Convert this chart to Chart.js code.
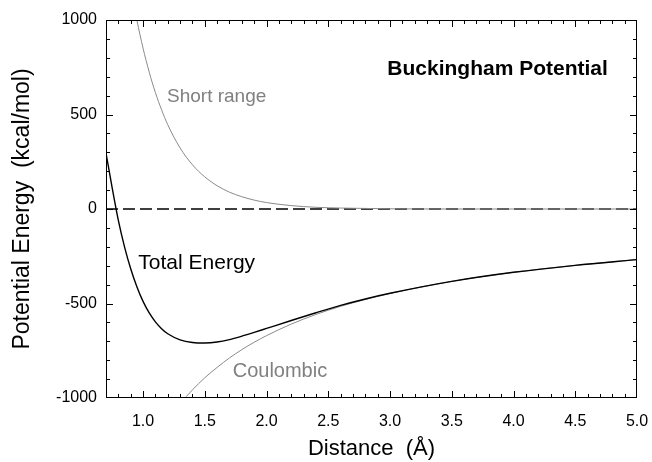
<!DOCTYPE html>
<html>
<head>
<meta charset="utf-8">
<script src="https://cdn.jsdelivr.net/npm/chart.js@4.4.0/dist/chart.umd.min.js"></script>
<style>
  html, body { margin: 0; padding: 0; background: #fff; }
</style>
</head>
<body>
<canvas id="chart" width="652" height="462"></canvas>
<script>
// values (kcal/mol vs distance in Å)
const distance = [0.70, 0.75, 0.80, 0.85, 0.90, 0.95, 1.00, 1.05, 1.10, 1.15, 1.20, 1.30, 1.40, 1.50,
  1.60, 1.70, 1.80, 1.90, 2.00, 2.20, 2.40, 2.60, 2.80, 3.00, 3.50, 4.00, 4.50, 5.00];
const totalEnergy = [296, 112, -60, -200, -316, -411, -489, -550, -597, -633, -660, -692, -706, -709,
  -704, -691, -673, -653, -632, -590, -549, -510, -476, -446, -383, -335, -298, -268];
const shortRange = [2210, 1906, 1622, 1380, 1175, 1000, 851, 724, 616, 525, 446, 323, 234, 170,
  123, 89, 65, 47, 34, 18, 9, 5, 3, 1, 0, 0, 0, 0];
const coulombic = [-1914, -1787, -1675, -1576, -1489, -1411, -1340, -1276, -1218, -1165, -1117, -1031, -957, -893,
  -838, -788, -744, -705, -670, -609, -558, -515, -479, -447, -383, -335, -298, -268];
const zeroX = [0.7, 5.0];
const zeroY = [0, 0];

const xTicks = [1.0, 1.5, 2.0, 2.5, 3.0, 3.5, 4.0, 4.5, 5.0];
const yTicks = [-1000, -500, 0, 500, 1000];

const FONT = '"Liberation Sans", Arial, Helvetica, sans-serif';

const pts = (xs, ys) => xs.map((x, i) => ({ x, y: ys[i] }));

const labels = [
  { text: 'Short range', x: 1.194, y: 565, color: '#808080', font: '19px ' + FONT },
  { text: 'Total Energy', x: 0.962, y: -317, color: '#000', font: '21px ' + FONT },
  { text: 'Coulombic', x: 1.726, y: -889, color: '#808080', font: '20px ' + FONT },
  { text: 'Buckingham Potential', x: 2.978, y: 709, color: '#000', font: 'bold 21px ' + FONT },
];

const frameTicks = {
  id: 'frameTicks',
  afterDatasetsDraw(chart) {
    const { ctx, chartArea: a, scales: { x, y } } = chart;
    ctx.save();
    ctx.strokeStyle = '#000';
    ctx.lineWidth = 1;
    ctx.beginPath();
    for (let i = 8; i <= 49; i++) {
      const px = Math.round(x.getPixelForValue(i / 10)) + 0.5;
      const len = i % 5 === 0 ? 7 : 4;
      ctx.moveTo(px, a.bottom); ctx.lineTo(px, a.bottom - len);
      ctx.moveTo(px, a.top); ctx.lineTo(px, a.top + len);
    }
    for (let v = -900; v <= 900; v += 100) {
      const py = Math.round(y.getPixelForValue(v)) + 0.5;
      const len = v % 500 === 0 ? 7 : 4;
      ctx.moveTo(a.left, py); ctx.lineTo(a.left + len, py);
      ctx.moveTo(a.right, py); ctx.lineTo(a.right - len, py);
    }
    ctx.stroke();
    ctx.strokeRect(a.left + 0.5, a.top + 0.5, a.right - a.left - 1, a.bottom - a.top - 1);

    labels.forEach((l) => {
      ctx.font = l.font;
      ctx.fillStyle = l.color;
      ctx.textBaseline = 'alphabetic';
      ctx.fillText(l.text, x.getPixelForValue(l.x), y.getPixelForValue(l.y));
    });
    ctx.restore();
  },
};

new Chart(document.getElementById('chart'), {
  type: 'line',
  data: {
    datasets: [
      { data: pts(distance, totalEnergy), borderColor: '#000', borderWidth: 1.4 },
      { data: pts(distance, shortRange), borderColor: '#8a8a8a', borderWidth: 1 },
      { data: pts(distance, coulombic), borderColor: '#8a8a8a', borderWidth: 1 },
      { data: pts(zeroX, zeroY), borderColor: '#000', borderWidth: 1.6, borderDash: [12, 5] },
    ],
  },
  options: {
    responsive: false,
    animation: false,
    layout: { padding: { top: 20, right: 15, left: 0, bottom: 0 } },
    elements: {
      point: { radius: 0 },
      line: { cubicInterpolationMode: 'monotone', fill: false },
    },
    plugins: { legend: { display: false }, tooltip: { enabled: false } },
    scales: {
      x: {
        type: 'linear',
        min: 0.7,
        max: 5.0,
        afterFit: (s) => { s.height = 64; s.paddingLeft = 0; s.paddingRight = 0; },
        afterBuildTicks: (s) => { s.ticks = xTicks.map((v) => ({ value: v })); },
        grid: { display: false, drawTicks: false },
        border: { display: false },
        ticks: { color: '#000', padding: 14, maxRotation: 0, font: { family: FONT, size: 16 }, callback: (v) => v.toFixed(1) },
        title: { display: true, text: 'Distance  (Å)', color: '#000', padding: { top: 0, bottom: 0 }, font: { family: FONT, size: 22 } },
      },
      y: {
        min: -1000,
        max: 1000,
        afterFit: (s) => { s.width = 106; s.paddingTop = 0; s.paddingBottom = 0; },
        afterBuildTicks: (s) => { s.ticks = yTicks.map((v) => ({ value: v })); },
        grid: { display: false, drawTicks: false },
        border: { display: false },
        ticks: { color: '#000', padding: 9, font: { family: FONT, size: 16 }, callback: (v) => String(v) },
        title: { display: true, text: 'Potential Energy  (kcal/mol)', color: '#000', padding: { top: 9, bottom: 0 }, font: { family: FONT, size: 23 } },
      },
    },
  },
  plugins: [frameTicks],
});
</script>
</body>
</html>
